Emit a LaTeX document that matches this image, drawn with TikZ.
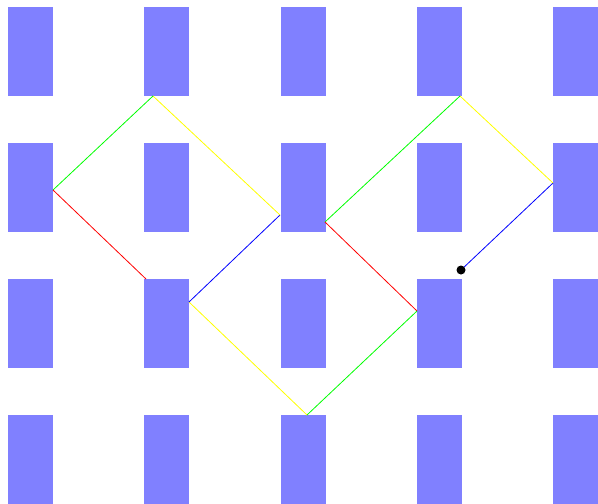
\documentclass[tikz,border=0pt]{standalone}
\usepackage{tikz}
\usepackage[rgb]{xcolor}

\begin{document}
\begin{tikzpicture}[x=1pt,y=-1pt]
	\useasboundingbox (0,0) rectangle (598,504);
	\clip (0,0) rectangle (598,504);
	% posts
	\foreach \i in {0,...,4}
		\foreach \j in {0,...,3}
			\fill[blue!50] (8+136.25*\i,7+136*\j) rectangle +(45,89);
	% bounce points
	\coordinate (start) at (461,270);
	\coordinate (p1) at (553,183);
	\coordinate (p2) at (460,96);
	\coordinate (p3) at (325,222);
	\coordinate (p4) at (417,311);
	\coordinate (p5) at (307,415);
	\coordinate (p6) at (189,302);
	\coordinate (p7) at (280,215);
	\coordinate (p8) at (153,96);
	\coordinate (p9) at (53,190);
	\coordinate (p10) at (146,279);
	% path of the ray
	\draw[blue,line width=0.8pt] (start) -- (p1);
	\draw[yellow,line width=0.8pt] (p1) -- (p2);
	\draw[green,line width=0.8pt] (p2) -- (p3);
	\draw[red,line width=0.8pt] (p3) -- (p4);
	\draw[green,line width=0.8pt] (p4) -- (p5);
	\draw[yellow,line width=0.8pt] (p5) -- (p6);
	\draw[blue,line width=0.8pt] (p6) -- (p7);
	\draw[yellow,line width=0.8pt] (p7) -- (p8);
	\draw[green,line width=0.8pt] (p8) -- (p9);
	\draw[red,line width=0.8pt] (p9) -- (p10);
	\fill[black] (start) circle (4.5);
\end{tikzpicture}
\end{document}
